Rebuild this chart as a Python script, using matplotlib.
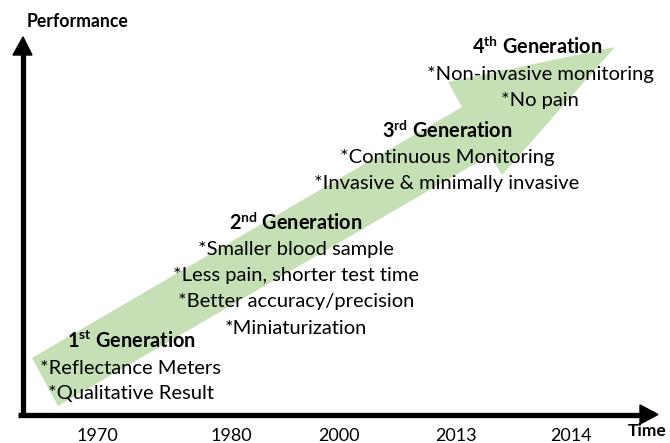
import matplotlib.pyplot as plt
from matplotlib.patches import Polygon

plt.rcParams['font.family'] = ['Lato', 'DejaVu Sans']
plt.rcParams['mathtext.fontset'] = 'custom'
plt.rcParams['mathtext.rm'] = 'Lato'
plt.rcParams['mathtext.bf'] = 'Lato:bold'

# ---------- content ----------
years = ["1970", "1980", "2000", "2013", "2014"]
year_x = [97, 231, 339, 456, 571]

gen_titles = [
    r"1$^{\mathbf{st}}$ Generation",
    r"2$^{\mathbf{nd}}$ Generation",
    r"3$^{\mathbf{rd}}$ Generation",
    r"4$^{\mathbf{th}}$ Generation",
]
gen_items = [
    ["*Reflectance Meters", "*Qualitative Result"],
    ["*Smaller blood sample", "*Less pain, shorter test time",
     "*Better accuracy/precision", "*Miniaturization"],
    ["*Continuous Monitoring", "*Invasive & minimally invasive"],
    ["*Non-invasive monitoring", "*No pain"],
]
# title anchor (x centre, y) for each block, pixel coords
gen_x = [131, 296, 447, 537]
gen_y = [341, 223, 131, 47]
item_x = [131, 296, 447, 540]

W, H = 670, 443
fig = plt.figure(figsize=(W / 100, H / 100), dpi=100)
ax = fig.add_axes([0, 0, 1, 1])
ax.set_xlim(0, W)
ax.set_ylim(H, 0)
ax.axis("off")

# big green arrow
green_arrow = [(32, 358), (462, 107), (448, 82), (615, 47),
               (502, 175), (490, 155), (58, 406)]
ax.add_patch(Polygon(green_arrow, closed=True, facecolor="#C5E0B4",
                     edgecolor="none", zorder=1))

# axes arrows
ax.plot([22.5, 22.5], [414.5, 52], color="black", lw=3.8,
        solid_capstyle="butt", zorder=3)
ax.add_patch(Polygon([(13, 55), (23, 37), (32, 55)], closed=True,
                     color="black", zorder=3))
ax.plot([18, 642], [414.5, 414.5], color="black", lw=3.8,
        solid_capstyle="butt", zorder=3)
ax.add_patch(Polygon([(640, 405), (658, 414.5), (640, 424)], closed=True,
                     color="black", zorder=3))

ax.text(27, 21, "Performance", fontsize=12.7, fontweight="bold",
        ha="left", va="center")
ax.text(647, 431, "Time", fontsize=12.5, fontweight="bold",
        ha="center", va="center")

for label, x in zip(years, year_x):
    ax.text(x, 436, label, fontsize=13, ha="center", va="center")

for title, items, gx, gy, ix in zip(gen_titles, gen_items, gen_x, gen_y, item_x):
    ax.text(gx, gy, title, fontsize=14.3, fontweight="bold",
            ha="center", va="center", zorder=4)
    for i, item in enumerate(items):
        ax.text(ix, gy + 26 * (i + 1) + 1, item, fontsize=14.5,
                ha="center", va="center", zorder=4)

fig.savefig("out.png", dpi=100)
